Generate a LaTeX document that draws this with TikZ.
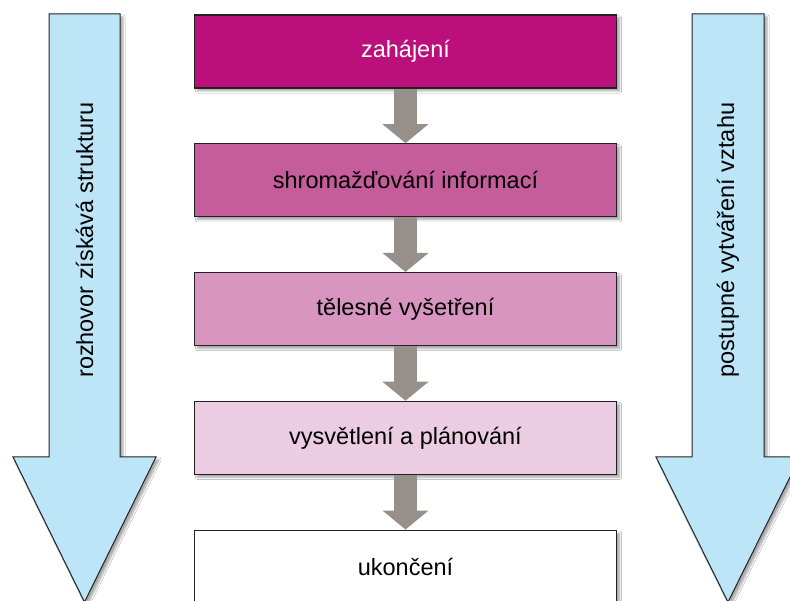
\documentclass[tikz,border=0pt]{standalone}
\usepackage{fontspec}
\setmainfont{Liberation Sans}
\usetikzlibrary{positioning,arrows.meta,shadows.blur}

\definecolor{stepA}{RGB}{187,16,124}
\definecolor{stepB}{RGB}{197,92,155}
\definecolor{stepC}{RGB}{215,149,192}
\definecolor{stepD}{RGB}{235,204,227}
\definecolor{sideblue}{RGB}{189,229,248}
\definecolor{flowgray}{RGB}{151,143,138}
\definecolor{edge}{RGB}{34,34,34}

\tikzset{
  stepbox/.style={draw=edge, line width=1.3pt, minimum width=422pt, minimum height=73pt,
    font=\fontsize{23.5}{28}\selectfont, text=black,
    blur shadow={shadow xshift=3pt, shadow yshift=-3pt, shadow blur steps=6, shadow opacity=35}},
  flow/.style={flowgray, line width=23pt, -{Triangle[length=19pt,width=45pt]}},
  sidearrow/.style={fill=sideblue, draw=edge, line width=1pt, line join=miter,
    blur shadow={shadow xshift=3pt, shadow yshift=-3pt, shadow blur steps=6, shadow opacity=35}},
  sidetext/.style={rotate=90, font=\fontsize{23.5}{28}\selectfont}
}

\begin{document}
\begin{tikzpicture}[x=1pt,y=1pt,node distance=54.5pt]
\useasboundingbox (0,0) rectangle (790,601);
\fill[white] (0,0) rectangle (790,601);

%left
\draw[sidearrow] (49,587) -- (120,587) -- (120,144) -- (156,144) -- (84.5,-1)
  -- (13,144) -- (49,144) -- cycle;
\node[sidetext] (left) at (84.5,361) {rozhovor získává strukturu};

%right
\draw[sidearrow] (692,587) -- (764,587) -- (764,144) -- (800,144) -- (728,-1)
  -- (656,144) -- (692,144) -- cycle;
\node[sidetext] (right) at (728,361) {postupné vytváření vztahu};

%steps
\node[stepbox, fill=stepA, text=white] (start) at (405.5,549.5) {zahájení};
\node[stepbox, fill=stepB, below=of start] (info) {shromažďování informací};
\node[stepbox, fill=stepC, below=of info] (exam) {tělesné vyšetření};
\node[stepbox, fill=stepD, below=of exam] (plan) {vysvětlení a plánování};
\node[stepbox, fill=white, below=of plan] (end) {ukončení};

\draw[flow] (start.south) -- (info.north);
\draw[flow] (info.south) -- (exam.north);
\draw[flow] (exam.south) -- (plan.north);
\draw[flow] (plan.south) -- (end.north);

\end{tikzpicture}
\end{document}
